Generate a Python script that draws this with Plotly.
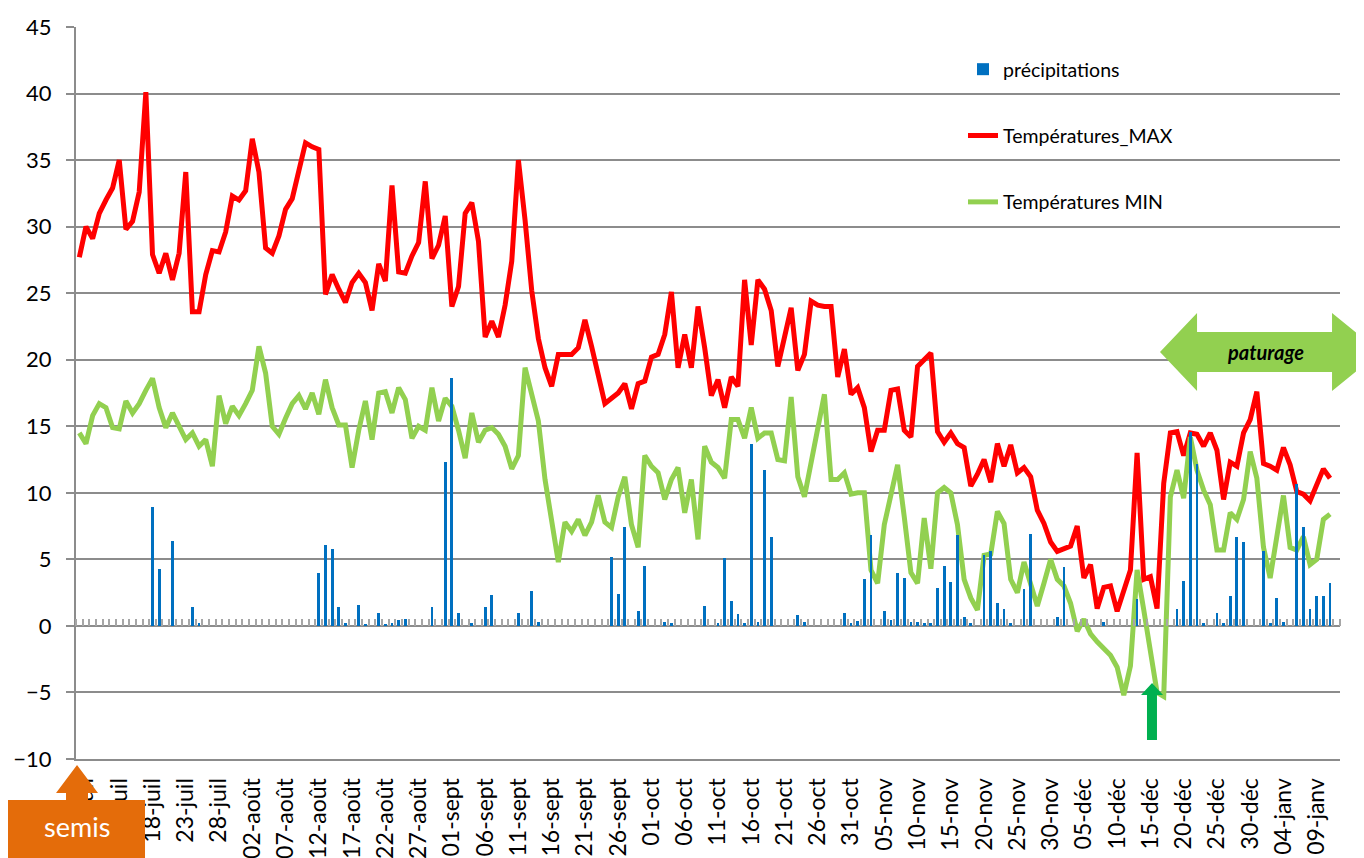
import numpy as np
import plotly.graph_objects as go

# tick labels every 5 days, starting on the 2nd category (08-juil)
tick_labels = [
    "08-juil", "13-juil", "18-juil", "23-juil", "28-juil", "02-août", "07-août",
    "12-août", "17-août", "22-août", "27-août", "01-sept", "06-sept", "11-sept",
    "16-sept", "21-sept", "26-sept", "01-oct", "06-oct", "11-oct", "16-oct",
    "21-oct", "26-oct", "31-oct", "05-nov", "10-nov", "15-nov", "20-nov",
    "25-nov", "30-nov", "05-déc", "10-déc", "15-déc", "20-déc", "25-déc",
    "30-déc", "04-janv", "09-janv",
]

# daily values from 07-juil
t_max = [
    27.7, 30.0, 29.1, 31.0, 32.0, 32.9, 35.0, 29.8, 30.4, 32.6,
    40.1, 27.9, 26.5, 28.0, 26.0, 28.0, 34.1, 23.6, 23.6, 26.4,
    28.2, 28.1, 29.6, 32.3, 32.0, 32.7, 36.6, 34.1, 28.4, 28.0,
    29.3, 31.3, 32.1, 34.3, 36.3, 36.0, 35.8, 24.9, 26.4, 25.3,
    24.3, 25.8, 26.5, 25.8, 23.7, 27.2, 25.9, 33.1, 26.6, 26.5,
    27.8, 28.8, 33.4, 27.6, 28.6, 30.8, 24.0, 25.5, 31.0, 31.8,
    28.9, 21.7, 22.9, 21.7, 24.1, 27.4, 35.0, 30.5, 25.2, 21.6,
    19.4, 18.0, 20.4, 20.4, 20.4, 20.9, 23.0, 21.0, 18.9, 16.7,
    17.1, 17.5, 18.2, 16.3, 18.2, 18.4, 20.2, 20.4, 21.9, 25.1,
    19.4, 21.9, 19.4, 24.0, 20.9, 17.3, 18.5, 16.4, 18.7, 18.0,
    26.0, 21.1, 26.0, 25.3, 23.7, 19.5, 21.7, 23.9, 19.2, 20.4,
    24.4, 24.1, 24.0, 24.0, 18.7, 20.8, 17.4, 17.9, 16.4, 13.1,
    14.7, 14.7, 17.7, 17.8, 14.7, 14.2, 19.5, 20.0, 20.5, 14.6,
    13.8, 14.5, 13.7, 13.4, 10.5, 11.4, 12.5, 10.8, 13.7, 12.0,
    13.6, 11.5, 11.9, 11.2, 8.7, 7.7, 6.3, 5.6, 5.8, 6.0,
    7.5, 3.6, 4.6, 1.3, 2.9, 3.0, 1.1, 2.6, 4.2, 13.0,
    3.5, 3.7, 1.3, 10.7, 14.5, 14.6, 12.8, 14.5, 14.4, 13.5,
    14.5, 13.2, 9.5, 12.3, 12.0, 14.5, 15.5, 17.6, 12.2, 12.0,
    11.7, 13.4, 12.1, 10.1, 9.9, 9.4, 10.7, 11.8, 11.1,
]

t_min = [
    14.5, 13.7, 15.8, 16.7, 16.4, 14.9, 14.8, 16.9, 16.0, 16.7,
    17.7, 18.6, 16.4, 14.9, 16.0, 15.0, 14.0, 14.5, 13.5, 14.0,
    12.0, 17.3, 15.2, 16.5, 15.8, 16.7, 17.7, 21.0, 19.0, 15.0,
    14.4, 15.6, 16.7, 17.3, 16.3, 17.5, 15.9, 18.5, 16.4, 15.1,
    15.1, 11.9, 14.7, 16.9, 14.0, 17.5, 17.6, 16.0, 17.9, 17.0,
    14.1, 15.0, 14.7, 17.9, 15.4, 17.1, 16.5, 14.7, 12.6, 16.0,
    13.8, 14.7, 14.9, 14.4, 13.5, 11.8, 12.8, 19.4, 17.4, 15.4,
    11.0, 7.8, 4.8, 7.8, 7.1, 8.0, 6.8, 7.8, 9.8, 7.8,
    7.4, 9.7, 11.2, 7.6, 5.9, 12.8, 12.0, 11.5, 9.5, 11.0,
    11.9, 8.5, 11.0, 6.5, 13.5, 12.3, 11.9, 11.1, 15.5, 15.5,
    14.1, 16.4, 14.1, 14.5, 14.5, 12.5, 12.4, 17.2, 11.2, 9.7,
    12.2, 15.0, 17.4, 11.0, 11.0, 11.5, 9.9, 10.0, 10.0, 4.2,
    3.2, 7.6, 9.7, 12.1, 8.2, 4.0, 3.2, 8.1, 4.3, 10.0,
    10.4, 10.0, 7.6, 3.5, 2.1, 1.2, 5.3, 5.4, 8.6, 7.7,
    3.5, 2.5, 4.8, 3.2, 1.5, 3.2, 5.0, 3.5, 3.0, 1.7,
    -0.4, 0.5, -0.6, -1.2, -1.7, -2.2, -3.1, -5.2, -3.0, 4.2,
    1.2, -1.8, -5.0, -5.3, 9.7, 11.7, 9.6, 14.2, 11.7, 10.2,
    9.1, 5.7, 5.7, 8.5, 8.0, 9.5, 13.1, 11.1, 5.9, 3.6,
    6.5, 9.8, 5.9, 5.7, 6.7, 4.6, 5.0, 8.0, 8.4,
]

precip = [
    0, 0, 0, 0, 0, 0, 0, 0, 0, 0,
    0, 8.9, 4.3, 0, 6.4, 0, 0, 1.4, 0.2, 0,
    0, 0, 0, 0, 0, 0, 0, 0, 0, 0,
    0, 0, 0, 0, 0, 0, 4.0, 6.1, 5.8, 1.4,
    0.2, 0, 1.6, 0.1, 0, 1.0, 0.15, 0.2, 0.45, 0.5,
    0, 0, 0, 1.4, 0, 12.3, 18.6, 1.0, 0, 0.2,
    0, 1.4, 2.3, 0, 0, 0, 1.0, 0, 2.6, 0.3,
    0, 0, 0, 0, 0, 0, 0, 0, 0, 0,
    5.2, 2.4, 7.4, 0, 1.15, 4.5, 0, 0, 0.3, 0.2,
    0, 0, 0, 0, 1.5, 0, 0.2, 5.1, 1.9, 0.9,
    0.2, 13.7, 0.3, 11.7, 6.7, 0, 0, 0, 0.8, 0.3,
    0, 0, 0, 0, 0, 1.0, 0.2, 0.4, 3.5, 6.8,
    0, 1.1, 0.45, 4.0, 3.6, 0.3, 0.3, 0.2, 0.2, 2.85,
    4.5, 3.3, 6.8, 0.7, 0.2, 0, 5.3, 5.6, 1.75, 1.3,
    0.2, 0, 2.8, 6.9, 0, 0, 0, 0.7, 4.4, 0,
    0, 0, 0, 0, 0.3, 0, 0, 0, 0, 2.0,
    0, 0, 0, 0, 0, 1.3, 3.4, 14.6, 12.2, 0.2,
    0, 1.0, 0.2, 2.25, 6.7, 6.3, 0, 0, 5.6, 0.25,
    2.1, 0.3, 0, 10.7, 7.4, 1.3, 2.25, 2.25, 3.25,
]

n_cat = 190
day = np.arange(len(t_max))
tick_pos = day[1::5]
x_range = [-0.5, n_cat - 0.5]
y_min, y_max = -10, 45

# page offset of the plotly div (body margin) and plot area in page pixels
OFF = 8
W, H = 1364 - OFF, 858 - OFF
L, R, T, B = 76, 1340, 27, 759


def px(x):
    return (x - L) / (R - L)


def py(y):
    return (B - y) / (B - T)


def path(points):
    return "M " + " L ".join(f"{px(x):.4f},{py(y):.4f}" for x, y in points) + " Z"


GRID = "#8c8c8c"
FONT = "Lato"

fig = go.Figure()
fig.add_trace(go.Bar(x=day, y=precip, name="précipitations", xaxis="x2",
                     marker=dict(color="#0070C0", line=dict(width=0)), width=0.42,
                     legendgroup="p"))
fig.add_trace(go.Scatter(x=day, y=t_max, mode="lines", name="Températures_MAX",
                         line=dict(color="#FF0000", width=5), legendgroup="a"))
fig.add_trace(go.Scatter(x=day, y=t_min, mode="lines", name="Températures MIN",
                         line=dict(color="#92D050", width=5), legendgroup="b"))

shapes = [
    # semis box + arrow
    dict(type="path", xref="paper", yref="paper", line_width=0, fillcolor="#E46C0A",
         path=path([(8, 800), (145, 800), (145, 870), (8, 870)])),
    dict(type="path", xref="paper", yref="paper", line_width=0, fillcolor="#E46C0A",
         path=path([(66, 801), (66, 793), (56, 793), (77, 765), (98, 793), (88, 793), (88, 801)])),
    # green arrow (mid december)
    dict(type="path", xref="paper", yref="paper", line_width=0, fillcolor="#00B050",
         path=path([(1147, 740), (1147, 695), (1141, 695), (1152, 683), (1163, 695), (1157, 695), (1157, 740)])),
    # paturage double arrow
    dict(type="path", xref="paper", yref="paper", line_width=0, fillcolor="#92D050",
         path=path([(1160, 352), (1197, 313), (1197, 332), (1332, 332), (1332, 313), (1380, 352),
                    (1332, 391), (1332, 372), (1197, 372), (1197, 391)])),
]

annotations = [
    dict(x=px(77), y=py(826), xref="paper", yref="paper", text="semis", showarrow=False,
         xanchor="center", yanchor="middle", font=dict(family=FONT, size=27, color="white")),
    dict(x=px(1265), y=py(352), xref="paper", yref="paper", text="<b><i>paturage</i></b>",
         showarrow=False, xanchor="center", yanchor="middle",
         font=dict(family=FONT, size=20, color="black")),
]

fig.update_layout(
    width=W, height=H,
    margin=dict(l=L - OFF, r=W - (R - OFF), t=T - OFF, b=H - (B - OFF), autoexpand=False),
    paper_bgcolor="white", plot_bgcolor="white",
    font=dict(family=FONT, color="black"),
    bargap=0,
    xaxis=dict(range=x_range, tickvals=tick_pos, ticktext=tick_labels, tickangle=-90,
               showgrid=False, zeroline=False, showline=True, linecolor=GRID, linewidth=2,
               ticks="", tickfont=dict(size=23), ticklabelstandoff=8),
    xaxis2=dict(overlaying="x", anchor="free", position=(0 - y_min) / (y_max - y_min), side="top",
                range=x_range, tickvals=np.arange(-0.5, n_cat, 1.0), ticks="outside", ticklen=7,
                tickwidth=2, tickcolor="#a6a6a6", showticklabels=False, showgrid=False,
                zeroline=False, showline=False),
    yaxis=dict(range=[y_min, y_max], dtick=5, tick0=0, showgrid=True, gridcolor=GRID, gridwidth=2,
               zeroline=False, showline=True, linecolor=GRID, linewidth=2, ticks="outside",
               ticklen=8, tickwidth=2, tickcolor=GRID, tickfont=dict(size=22),
               ticklabelstandoff=10),
    legend=dict(x=px(963), y=py(50), xanchor="left", yanchor="top", bgcolor="rgba(0,0,0,0)",
                font=dict(size=19.5), tracegroupgap=38, traceorder="grouped"),
    shapes=shapes,
    annotations=annotations,
)

fig.write_html("out.html")
